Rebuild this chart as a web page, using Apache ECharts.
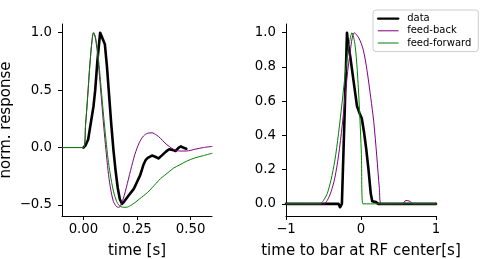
<!DOCTYPE html>
<html>
<head>
<meta charset="utf-8">
<script src="https://cdn.jsdelivr.net/npm/echarts@6/dist/echarts.min.js"></script>
<style>
html,body{margin:0;padding:0;background:#fff;}
#c{width:483px;height:259px;}
</style>
</head>
<body>
<div id="c"></div>
<script>
// ---- Left panel: response vs time ----
const leftDataT = [0, 0.01, 0.022, 0.035, 0.047, 0.055, 0.065, 0.078, 0.085, 0.1, 0.11, 0.12, 0.13, 0.14, 0.15, 0.16, 0.17, 0.18, 0.19, 0.21, 0.235, 0.25, 0.265, 0.28, 0.29, 0.3, 0.32, 0.335, 0.35, 0.365, 0.385, 0.4, 0.415, 0.43, 0.445, 0.455, 0.465, 0.48];
const leftDataV = [0, 0.02, 0.07, 0.22, 0.36, 0.5, 0.75, 1.0, 0.97, 0.9, 0.7, 0.45, 0.2, -0.02, -0.2, -0.35, -0.45, -0.49, -0.47, -0.42, -0.36, -0.3, -0.24, -0.15, -0.11, -0.09, -0.07, -0.08, -0.095, -0.07, -0.035, -0.015, -0.02, -0.03, 0.0, 0.01, 0.0, -0.01];
const leftModelT = [-0.1, 0, 0.01, 0.02, 0.03, 0.04, 0.047, 0.055, 0.065, 0.075, 0.085, 0.095, 0.105, 0.115, 0.125, 0.14, 0.155, 0.165, 0.175, 0.19, 0.2, 0.22, 0.24, 0.26, 0.28, 0.3, 0.32, 0.34, 0.36, 0.38, 0.4, 0.42, 0.45, 0.48, 0.52, 0.56, 0.6];
const leftFeedBackV = [0, 0, 0.2, 0.45, 0.72, 0.93, 1.0, 0.96, 0.83, 0.62, 0.4, 0.18, -0.02, -0.2, -0.34, -0.47, -0.515, -0.52, -0.5, -0.42, -0.35, -0.2, -0.06, 0.04, 0.1, 0.125, 0.128, 0.11, 0.08, 0.04, 0.01, -0.015, -0.03, -0.03, -0.015, 0.0, 0.01];
const leftFeedFwdV = [0, 0, 0.2, 0.45, 0.72, 0.93, 1.0, 0.97, 0.86, 0.68, 0.47, 0.26, 0.07, -0.1, -0.23, -0.38, -0.47, -0.5, -0.515, -0.52, -0.52, -0.505, -0.48, -0.45, -0.42, -0.39, -0.35, -0.31, -0.27, -0.24, -0.21, -0.18, -0.15, -0.12, -0.09, -0.07, -0.05];
const leftXTicks = [0, 0.25, 0.5];
const leftYTicks = [-0.5, 0, 0.5, 1.0];

// ---- Right panel: response vs time to bar at RF center ----
const rightDataT = [-1, -0.3, -0.28, -0.255, -0.22, -0.187, -0.17, -0.143, -0.1, -0.053, -0.02, 0.01, 0.04, 0.07, 0.1, 0.13, 0.15, 0.2, 0.23, 1];
const rightDataV = [0, 0, -0.02, 0.0, 0.5, 1.0, 0.93, 0.86, 0.72, 0.57, 0.53, 0.5, 0.42, 0.32, 0.2, 0.06, 0.015, 0.01, 0, 0];
const rightFeedBackT = [-1, -0.5, -0.45, -0.4, -0.35, -0.3, -0.25, -0.2, -0.15, -0.09, -0.03, 0.03, 0.08, 0.13, 0.17, 0.21, 0.245, 0.27, 0.55, 0.6, 0.65, 0.7, 1];
const rightFeedBackV = [0, 0, 0.02, 0.07, 0.15, 0.28, 0.46, 0.68, 0.87, 1.0, 0.97, 0.9, 0.78, 0.62, 0.48, 0.28, 0.09, 0, 0, 0.02, 0.015, 0, 0];
const rightFeedFwdT = [-1, -0.55, -0.5, -0.45, -0.4, -0.35, -0.3, -0.25, -0.2, -0.16, -0.12, -0.08, -0.05, -0.02, 0.005, 0.025, 1];
const rightFeedFwdV = [0, 0, 0.02, 0.06, 0.14, 0.25, 0.41, 0.6, 0.8, 0.93, 1.0, 0.93, 0.78, 0.55, 0.29, 0, 0];
const rightXTicks = [-1, 0, 1];
const rightYTicks = [0, 0.2, 0.4, 0.6, 0.8, 1.0];

const seriesNames = ['data', 'feed-back', 'feed-forward'];
const colors = ['#000000', '#800080', '#008000'];

const zip = (xs, ys) => xs.map((x, i) => [x, ys[i]]);
const FONT = 'DejaVu Sans';
const minus = s => String(s).replace('-', '\u2212');

function xAxisOf(idx, min, max, ticks, digits, name) {
  return {
    type: 'value', gridIndex: idx, min: min, max: max,
    name: name, nameLocation: 'middle', nameGap: 27.5,
    nameTextStyle: {fontFamily: FONT, fontSize: 15, color: '#000'},
    axisLine: {show: true, onZero: false, lineStyle: {color: '#000', width: 1}},
    axisTick: {show: true, length: 4, inside: false, customValues: ticks, lineStyle: {color: '#000', width: 1}},
    axisLabel: {customValues: ticks, margin: 7, fontFamily: FONT, fontSize: 13.3, color: '#000',
      formatter: v => minus(Number(v).toFixed(digits))},
    splitLine: {show: false}
  };
}
function yAxisOf(idx, min, max, ticks, name) {
  return {
    type: 'value', gridIndex: idx, min: min, max: max,
    name: name, nameLocation: 'middle', nameGap: 48, nameRotate: 90,
    nameTextStyle: {fontFamily: FONT, fontSize: 15, color: '#000'},
    axisLine: {show: true, onZero: false, lineStyle: {color: '#000', width: 1}},
    axisTick: {show: true, length: 4, inside: false, customValues: ticks, lineStyle: {color: '#000', width: 1}},
    axisLabel: {customValues: ticks, margin: 10, fontFamily: FONT, fontSize: 13.3, color: '#000',
      formatter: v => minus(Number(v).toFixed(1))},
    splitLine: {show: false}
  };
}
function lineSeries(name, k, grid, data, smooth) {
  return {
    type: 'line', name: name, xAxisIndex: grid, yAxisIndex: grid,
    data: data, symbol: 'none', smooth: smooth, animation: false,
    lineStyle: {color: colors[k], width: k === 0 ? 2.6 : 1, cap: 'round', join: 'round'},
    itemStyle: {color: colors[k]}
  };
}

const chart = echarts.init(document.getElementById('c'), null, {renderer: 'canvas'});
chart.setOption({
  animation: false,
  backgroundColor: '#fff',
  grid: [
    {left: 62, top: 24, width: 150, height: 192, containLabel: false, outerBoundsMode: 'none'},
    {left: 286, top: 24, width: 150, height: 192, containLabel: false, outerBoundsMode: 'none'}
  ],
  xAxis: [
    xAxisOf(0, -0.1, 0.6, leftXTicks, 2, 'time [s]'),
    xAxisOf(1, -1, 1, rightXTicks, 0, 'time to bar at RF center[s]')
  ],
  yAxis: [
    yAxisOf(0, -0.596, 1.076, leftYTicks, 'norm. response'),
    yAxisOf(1, -0.071, 1.051, rightYTicks, '')
  ],
  legend: {
    orient: 'vertical', left: 373, top: 10,
    padding: [3, 7, 3, 4], itemWidth: 20, itemHeight: 14, itemGap: 1,
    borderColor: '#cccccc', borderWidth: 1, borderRadius: 3,
    backgroundColor: 'rgba(255,255,255,0.8)',
    itemStyle: {opacity: 0},
    textStyle: {fontFamily: FONT, fontSize: 10, color: '#000', padding: [0, 0, 0, 4]},
    data: seriesNames.map((n, k) => ({name: n, lineStyle: {width: k === 0 ? 2.4 : 1, color: colors[k]}}))
  },
  series: [
    lineSeries(seriesNames[0], 0, 0, zip(leftDataT, leftDataV), false),
    lineSeries(seriesNames[1], 1, 0, zip(leftModelT, leftFeedBackV), 0.3),
    lineSeries(seriesNames[2], 2, 0, zip(leftModelT, leftFeedFwdV), 0.3),
    lineSeries(seriesNames[0], 0, 1, zip(rightDataT, rightDataV), false),
    lineSeries(seriesNames[1], 1, 1, zip(rightFeedBackT, rightFeedBackV), 0.3),
    lineSeries(seriesNames[2], 2, 1, zip(rightFeedFwdT, rightFeedFwdV), 0.3)
  ]
});
</script>
</body>
</html>
